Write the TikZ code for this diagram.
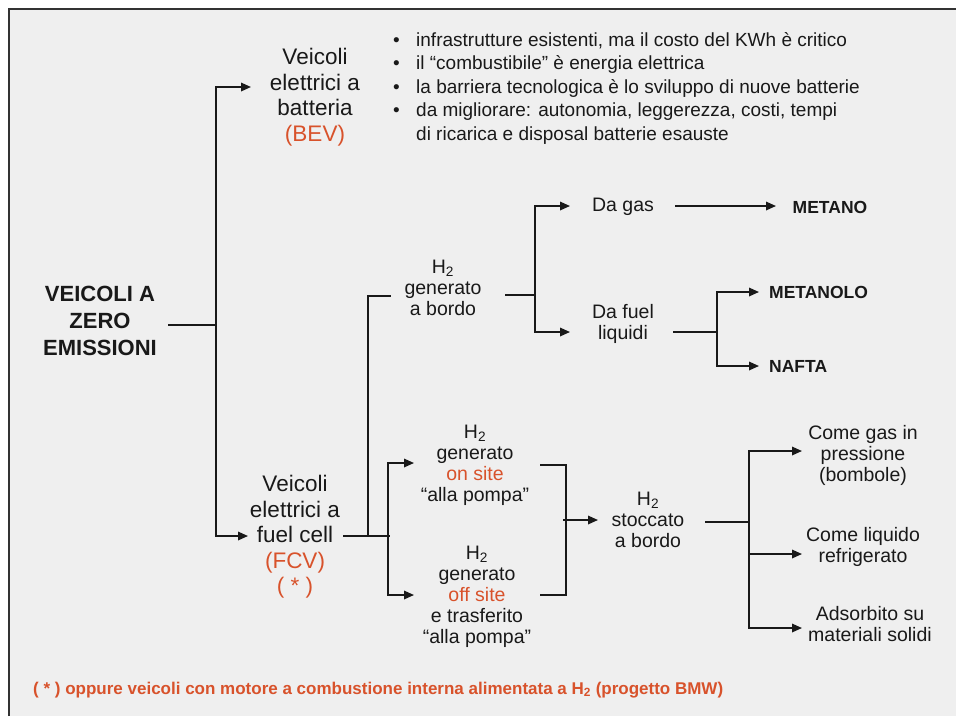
\documentclass[tikz,border=0pt]{standalone}
\usepackage{fontspec}
\setmainfont{Liberation Sans}
\usetikzlibrary{arrows.meta}
\definecolor{orng}{RGB}{216,82,43}
\definecolor{bg}{RGB}{239,239,239}
\definecolor{ink}{RGB}{25,25,25}
\begin{document}
\begin{tikzpicture}[x=1pt,y=-1pt,
  txt/.style={font=\fontsize{19.5}{21}\selectfont, align=center, inner sep=0pt, text=ink},
  bigtxt/.style={font=\fontsize{22.5}{25.5}\selectfont, align=center, inner sep=0pt, text=ink},
  capstxt/.style={font=\bfseries\fontsize{17.5}{21}\selectfont, inner sep=0pt, text=ink},
  ln/.style={line width=1.7pt, draw=ink},
  arr/.style={ln, -{Triangle[length=10pt,width=8.5pt]}},
]
\useasboundingbox (0,0) rectangle (956,716);
\fill[white] (0,0) rectangle (956,716);
\fill[bg] (9,9) rectangle (956,716);
\draw[line width=2pt, draw=black!80] (9,716) -- (9,9) -- (956,9);

% nodes
\node[font=\bfseries\fontsize{22}{27}\selectfont, align=center, inner sep=0pt, text=ink] (zero) at (100,321) {VEICOLI A\\ZERO\\EMISSIONI};
\node[bigtxt] (bev) at (315,97) {Veicoli\\elettrici a\\batteria\\\textcolor{orng}{(BEV)}};
\node[bigtxt] (fcv) at (295,537) {Veicoli\\elettrici a\\fuel cell\\\textcolor{orng}{(FCV)}\\\textcolor{orng}{( * )}};
\node[anchor=west, inner sep=0pt, align=left, font=\fontsize{19}{23.5}\selectfont, text=ink] (bul) at (393,88)
 {\makebox[23pt][l]{•}infrastrutture esistenti, ma il costo del KWh è critico\\
  \makebox[23pt][l]{•}il “combustibile” è energia elettrica\\
  \makebox[23pt][l]{•}la barriera tecnologica è lo sviluppo di nuove batterie\\
  \makebox[23pt][l]{•}da migliorare: autonomia, leggerezza, costi, tempi\\
  \makebox[23pt][l]{}di ricarica e disposal batterie esauste};
\node[txt] (hb) at (443,288) {H\textsubscript{2}\\generato\\a bordo};
\node[txt] (dagas) at (623,207) {Da gas};
\node[txt] (dafuel) at (623,324) {Da fuel\\liquidi};
\node[capstxt] (metano) at (830,207) {METANO};
\node[capstxt, anchor=west] (metanolo) at (769,292) {METANOLO};
\node[capstxt, anchor=west] (nafta) at (769,366) {NAFTA};
\node[txt] (onsite) at (475,465) {H\textsubscript{2}\\generato\\\textcolor{orng}{on site}\\“alla pompa”};
\node[txt] (offsite) at (477,597) {H\textsubscript{2}\\generato\\\textcolor{orng}{off site}\\e trasferito\\“alla pompa”};
\node[txt] (stocc) at (648,520) {H\textsubscript{2}\\stoccato\\a bordo};
\node[txt] (gas) at (863,455) {Come gas in\\pressione\\(bombole)};
\node[txt] (liq) at (863,547) {Come liquido\\refrigerato};
\node[txt] (ads) at (870,624) {Adsorbito su\\materiali solidi};
\node[font=\bfseries\fontsize{17}{20}\selectfont, text=orng, anchor=west, inner sep=0pt] (foot) at (33,690) {( * ) oppure veicoli con motore a combustione interna alimentata a H\textsubscript{2} (progetto BMW)};

% connector coordinates
\coordinate (z1) at (168,325); \coordinate (zj) at (216,325);
\coordinate (bevin) at (251,87); \coordinate (fcvin) at (248,536);
\coordinate (fo) at (343,536); \coordinate (fj1) at (368,536); \coordinate (fj2) at (390,536);
\coordinate (fj3) at (388,536);
\coordinate (hbin) at (391,296);
\coordinate (onin) at (414,463); \coordinate (offin) at (414,595);
\coordinate (hbo) at (505,295); \coordinate (hbj) at (535,295);
\coordinate (dgin) at (570,206); \coordinate (dfin) at (570,332);
\coordinate (dgo) at (675,206); \coordinate (mtin) at (776,206);
\coordinate (dfo) at (673,332); \coordinate (dfj) at (717,332);
\coordinate (mlin) at (759,292); \coordinate (nfin) at (759,366);
\coordinate (ono) at (540,465); \coordinate (offo) at (540,595);
\coordinate (sj) at (566,520); \coordinate (sj0) at (563,520); \coordinate (stin) at (598,520);
\coordinate (sto) at (705,522); \coordinate (stj) at (749,522);
\coordinate (gin) at (802,451); \coordinate (lin) at (802,554); \coordinate (ain) at (802,628);

% connectors
\draw[ln] (z1) -- (zj);
\draw[arr] (zj) |- (bevin);
\draw[arr] (zj) |- (fcvin);
\draw[ln] (fo) -- (fj2);
\draw[ln] (fj1) |- (hbin);
\draw[arr] (fj3) |- (onin);
\draw[arr] (fj3) |- (offin);
\draw[ln] (hbo) -- (hbj);
\draw[arr] (hbj) |- (dgin);
\draw[arr] (hbj) |- (dfin);
\draw[arr] (dgo) -- (mtin);
\draw[ln] (dfo) -- (dfj);
\draw[arr] (dfj) |- (mlin);
\draw[arr] (dfj) |- (nfin);
\draw[ln] (ono) -| (sj);
\draw[ln] (offo) -| (sj);
\draw[arr] (sj0) -- (stin);
\draw[ln] (sto) -- (stj);
\draw[arr] (stj) |- (gin);
\draw[arr] (stj) |- (lin);
\draw[arr] (stj) |- (ain);
\end{tikzpicture}
\end{document}
